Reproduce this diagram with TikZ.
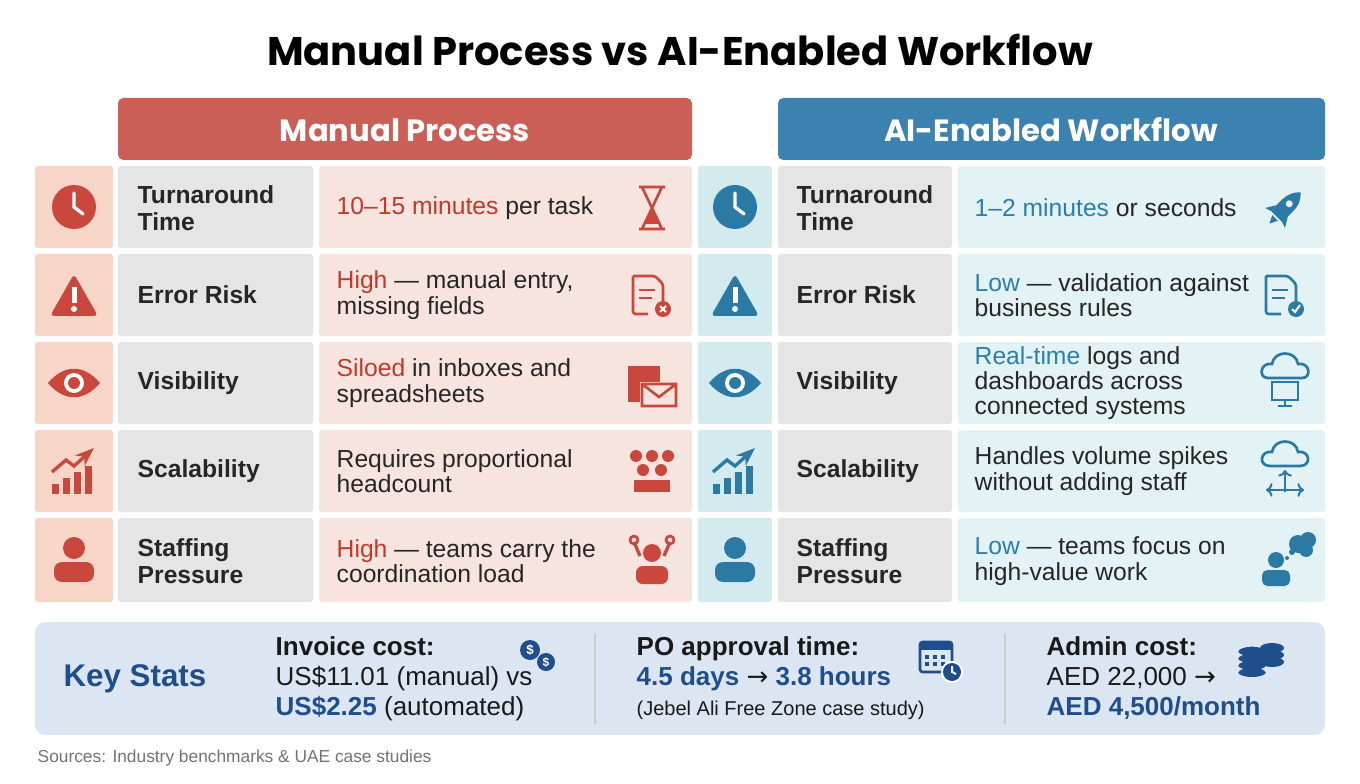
\documentclass[tikz,border=0pt]{standalone}
\usepackage{fontspec}
\usetikzlibrary{arrows.meta}
\setmainfont{Liberation Sans}
\newfontfamily\pop{Poppins}
\begin{document}
\definecolor{hred}{HTML}{CC5F55}\definecolor{hblue}{HTML}{3C82B0}
\definecolor{tred}{HTML}{C0392B}\definecolor{tblue}{HTML}{2A7FAE}
\definecolor{lred}{HTML}{F7D6C7}\definecolor{pred}{HTML}{F8E4DE}
\definecolor{lblue}{HTML}{D3EBEE}\definecolor{pblue}{HTML}{E3F2F4}
\definecolor{gcell}{HTML}{E5E5E5}\definecolor{kbg}{HTML}{DCE6F2}
\definecolor{kblue}{HTML}{1F4E8C}\definecolor{icr}{HTML}{C9473C}\definecolor{icb}{HTML}{2B7AA6}
\begin{tikzpicture}[x=0.75pt,y=-0.75pt,
 cell/.style={draw=none,rounded corners=2pt},
 lab/.style={anchor=west,font=\fontsize{18.5}{20}\selectfont\bfseries,align=left,text=black!85},
 val/.style={anchor=west,font=\fontsize{18.5}{19}\selectfont,align=left,text=black!85},
 hdr/.style={font=\pop\fontsize{23}{24}\selectfont\bfseries,text=white}]
\useasboundingbox (0,0) rectangle (1360,784);
\fill[white] (0,0) rectangle (1360,784);
\node[font=\pop\fontsize{30}{32}\selectfont\bfseries] (title) at (680,50) {Manual Process vs AI-Enabled Workflow};
\fill[hred,rounded corners=4pt] (118,98) rectangle (692,160);
\node[hdr] (hl) at (405,130) {Manual Process};
\fill[hblue,rounded corners=4pt] (778,98) rectangle (1325,160);
\node[hdr] (hr) at (1051,130) {AI-Enabled Workflow};
% rows
\foreach \a/\b in {166/248,254/336,342/424,430/512,518/602}{
 \fill[lred,cell] (35,\a) rectangle (113,\b);
 \fill[gcell,cell] (118,\a) rectangle (313,\b);
 \fill[pred,cell] (319,\a) rectangle (692,\b);
 \fill[lblue,cell] (698,\a) rectangle (772,\b);
 \fill[gcell,cell] (778,\a) rectangle (952,\b);
 \fill[pblue,cell] (958,\a) rectangle (1325,\b);
}
% left icons
\foreach \x/\c in {74/icr,735/icb}{
 \fill[\c] (\x,207) circle (22); \draw[white,line width=2.5pt,line cap=round] (\x,193)--(\x,207)--(\x+9,214);
 \fill[\c,rounded corners=3pt] (\x-24,316)--(\x,274)--(\x+24,316)--cycle;
 \fill[white] (\x-2.5,287) rectangle (\x+2.5,303); \fill[white] (\x,309) circle (3);
 \fill[\c] (\x-26,383) .. controls (\x-10,364) and (\x+10,364) .. (\x+26,383) .. controls (\x+10,402) and (\x-10,402) .. cycle;
 \fill[white] (\x,383) circle (10); \fill[\c] (\x,383) circle (6);
 \foreach \i/\h in {0/10,1/16,2/22,3/28}{\fill[\c] (\x-22+\i*11,494-\h) rectangle (\x-15+\i*11,494);}
 \draw[\c,line width=2.5pt,-{Stealth}] (\x-22,472)--(\x-8,460)--(\x,466)--(\x+20,448);
 \fill[\c] (\x,548) circle (11); \fill[\c,rounded corners=6pt] (\x-20,582) rectangle (\x+20,562);
}
% labels
\node[lab] (l1) at (133,208) {Turnaround\\Time};
\node[lab] (l2) at (133,295) {Error Risk};
\node[lab] (l3) at (133,383) {Visibility};
\node[lab] (l4) at (133,471) {Scalability};
\node[lab] (l5) at (133,561) {Staffing\\Pressure};
\node[lab] (r1) at (792,208) {Turnaround\\Time};
\node[lab] (r2) at (792,295) {Error Risk};
\node[lab] (r3) at (792,383) {Visibility};
\node[lab] (r4) at (792,471) {Scalability};
\node[lab] (r5) at (792,561) {Staffing\\Pressure};
% values
\node[val] (v1) at (332,208) {\textcolor{tred}{10–15 minutes} per task};
\node[val] (v2) at (332,295) {\textcolor{tred}{High} — manual entry,\\missing fields};
\node[val] (v3) at (332,383) {\textcolor{tred}{Siloed} in inboxes and\\spreadsheets};
\node[val] (v4) at (332,471) {Requires proportional\\headcount};
\node[val] (v5) at (332,561) {\textcolor{tred}{High} — teams carry the\\coordination load};
\node[val] (w1) at (970,208) {\textcolor{tblue}{1–2 minutes} or seconds};
\node[val] (w2) at (970,295) {\textcolor{tblue}{Low} — validation against\\business rules};
\node[val] (w3) at (970,383) {\textcolor{tblue}{Real-time} logs and\\dashboards across\\connected systems};
\node[val] (w4) at (970,471) {Handles volume spikes\\without adding staff};
\node[val] (w5) at (970,561) {\textcolor{tblue}{Low} — teams focus on\\high-value work};
% value icons left
\draw[icr,line width=2pt] (639,187)--(665,187) (639,229)--(665,229) (642,187)--(662,229) (662,187)--(642,229);
\fill[icr] (652,208)--(645,224)--(659,224)--cycle;
\draw[icr,line width=2pt,rounded corners=2pt] (633,276)--(655,276)--(663,284)--(663,308) (633,276)--(633,314)--(648,314);
\draw[icr,line width=1.5pt] (639,290)--(655,290) (639,298)--(652,298);
\fill[icr] (663,309) circle (8); \draw[white,line width=1.5pt] (660,306)--(666,312) (666,306)--(660,312);
\fill[icr] (628,366) rectangle (660,402); \fill[pred] (640,382) rectangle (678,408);
\draw[icr,line width=2pt] (642,384) rectangle (676,406) (642,384)--(659,397)--(676,384);
\foreach \dx in {-16,0,16}{\fill[icr] (652+\dx,456) circle (6);}
\foreach \dx in {-9,9}{\fill[icr] (652+\dx,470) circle (6); \fill[icr] (652+\dx-9,492) rectangle (652+\dx+9,480);}
\fill[icr] (652,553) circle (9); \fill[icr,rounded corners=5pt] (636,584) rectangle (668,566);
\draw[icr,line width=2.5pt] (640,556)--(634,542) (664,556)--(670,542);
\foreach \dx in {-18,18}{\draw[icr,line width=2pt] (652+\dx,540) circle (4);}
% value icons right
\begin{scope}[shift={(1285,208)},rotate=-45]
\fill[icb] (-8,-4) .. controls (-8,-16) and (0,-22) .. (0,-22) .. controls (0,-22) and (8,-16) .. (8,-4) -- (8,12) -- (-8,12) -- cycle;
\fill[icb] (-8,4) -- (-14,14) -- (-8,12) -- cycle; \fill[icb] (8,4) -- (14,14) -- (8,12) -- cycle;
\fill[pblue] (0,-6) circle (3.5);
\fill[icb] (-4,14) -- (0,22) -- (4,14) -- cycle;
\end{scope}
\draw[icb,line width=2pt,rounded corners=2pt] (1266,276)--(1288,276)--(1296,284)--(1296,306) (1266,276)--(1266,314)--(1281,314);
\draw[icb,line width=1.5pt] (1272,290)--(1288,290) (1272,298)--(1285,298);
\fill[icb] (1296,309) circle (8); \draw[white,line width=1.5pt] (1292,309)--(1295,312)--(1300,305);
\draw[icb,line width=2pt] (1268,378) .. controls (1258,378) and (1260,362) .. (1272,364) .. controls (1274,350) and (1296,350) .. (1298,364) .. controls (1310,362) and (1312,378) .. (1302,378) -- cycle;
\draw[icb,line width=2pt] (1272,382) rectangle (1298,400) (1285,400)--(1285,406) (1278,406)--(1292,406);
\draw[icb,line width=2pt] (1270,466) .. controls (1258,466) and (1260,450) .. (1272,452) .. controls (1274,438) and (1296,438) .. (1298,452) .. controls (1310,450) and (1312,466) .. (1300,466) -- cycle;
\draw[icb,line width=1.5pt,<->] (1266,490)--(1304,490); \draw[icb,line width=1.5pt,->] (1285,492)--(1285,470);
\fill[icb] (1276,560) circle (8); \fill[icb,rounded corners=4pt] (1262,586) rectangle (1290,570);
\fill[icb] (1298,544) circle (9) (1308,540) circle (8) (1306,550) circle (7) (1292,552) circle (3) (1287,558) circle (2);
% key stats
\fill[kbg,rounded corners=8pt] (35,622) rectangle (1325,735);
\node[font=\fontsize{23.5}{24}\selectfont\bfseries,text=kblue] (ks) at (135,679) {Key Stats};
\draw[black!20,line width=1pt] (595,634)--(595,724) (1005,634)--(1005,724);
\node[anchor=north west,align=left,font=\fontsize{19.5}{22.5}\selectfont,text=black!90] (s1) at (271,632) {\textbf{Invoice cost:}\\US\$11.01 (manual) vs\\\textcolor{kblue}{\textbf{US\$2.25}} (automated)};
\node[anchor=north west,align=left,font=\fontsize{19.5}{22.5}\selectfont,text=black!90] (s2) at (632,632) {\textbf{PO approval time:}\\\textcolor{kblue}{\textbf{4.5 days}} {\fontspec{DejaVu Sans}→} \textcolor{kblue}{\textbf{3.8 hours}}\\{\fontsize{15}{16}\selectfont (Jebel Ali Free Zone case study)}};
\node[anchor=north west,align=left,font=\fontsize{19.5}{22.5}\selectfont,text=black!90] (s3) at (1042,632) {\textbf{Admin cost:}\\AED 22,000 {\fontspec{DejaVu Sans}→}\\\textcolor{kblue}{\textbf{AED 4,500/month}}};
\fill[kblue] (530,650) circle (10); \fill[kblue] (546,662) circle (9);
\node[white,font=\bfseries\fontsize{10}{10}\selectfont] (d1) at (530,650) {\$};
\node[white,font=\bfseries\fontsize{9}{9}\selectfont] (d2) at (546,662) {\$};
\draw[kblue,line width=2pt,rounded corners=2pt] (920,642) rectangle (952,672);
\fill[kblue] (920,642) rectangle (952,650);
\foreach \i in {0,1,2}{\foreach \j in {0,1}{\fill[kblue] (925+\i*8,655+\j*7) rectangle (929+\i*8,659+\j*7);}}
\fill[white] (952,672) circle (11); \fill[kblue] (952,672) circle (9); \draw[white,line width=1.5pt] (952,666)--(952,672)--(956,674);
\foreach \k in {0,1,2,3}{\fill[kblue] (1252,672-\k*7) ellipse (14 and 5); \draw[kbg,line width=1pt] (1238,672-\k*7) arc (180:360:14 and 5);}
\foreach \k in {0,1,2}{\fill[kblue] (1272,662-\k*7) ellipse (12 and 5);}
\node[anchor=west,font=\fontsize{13}{14}\selectfont,text=black!55] (src) at (33,758) {Sources: Industry benchmarks \& UAE case studies};
\end{tikzpicture}
\end{document}
